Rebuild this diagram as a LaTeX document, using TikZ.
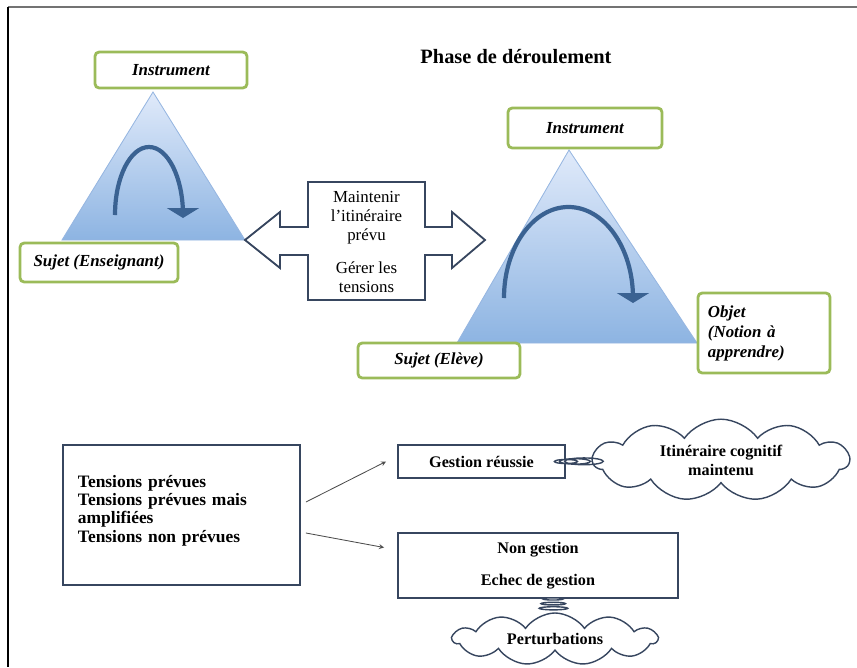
\documentclass[tikz,border=0pt]{standalone}
\usepackage{fontspec}
\setmainfont{Liberation Serif}
\usepackage{tikz}
\usetikzlibrary{shapes,arrows,arrows.meta}
\usetikzlibrary{positioning}
\definecolor{poleGreen}{RGB}{155,187,89}
\definecolor{boxNavy}{RGB}{55,70,95}
\definecolor{triTop}{RGB}{224,234,250}
\definecolor{triBot}{RGB}{141,180,226}
\definecolor{triEdge}{RGB}{150,182,225}
\definecolor{arcBlue}{RGB}{58,98,146}
\newcommand{\mBold}[1]{\fontsize{#1}{1.18\dimexpr #1pt\relax}\selectfont\bfseries}
\newcommand{\turn}[4]{\draw[turnarrow] #1 arc[start angle=180,end angle=360,x radius=#2,y radius=#3] -- ++(0,#4)}
\newcommand{\pole}[5]{\node[pole,minimum width=#3,minimum height=#4] (#1) at #2 {#5}}
\tikzset{
    pole/.style={draw=poleGreen,line width=2pt,rounded corners=3pt,fill=white,
        inner sep=3pt,font=\fontsize{12}{14}\selectfont\bfseries\itshape},
    tri/.style={top color=triTop,bottom color=triBot,draw=triEdge,line width=0.6pt},
    turnarrow/.style={draw=arcBlue,line width=3pt,
        -{Triangle[width=0.8cm,length=0.25cm]}},
    plainbox/.style={draw=boxNavy,line width=1.3pt,fill=white,font=\mBold{11.5}},
    cloudnote/.style={cloud callout,draw=boxNavy,line width=1pt,fill=white,
        cloud puffs=11,cloud puff arc=110,cloud ignores aspect,
        callout pointer segments=3,font=\mBold{11.5}},
    tensarrow/.style={->,>=stealth,draw=black!70,line width=0.6pt}
}
\begin{document}
\begin{tikzpicture}[x=0.025cm,y=-0.025cm]
    \useasboundingbox (0,0) rectangle (857,667);
    \draw [line width=1.5pt,black!55] (8,7) -- (857,7);
    \draw [line width=1.2pt] (8,7) -- (8,667);
    \node[font=\mBold{14.5}] (titre) at (516,57) {Phase de déroulement};
    % enseignant
    \shade[tri] (153,92) -- (245,240) -- (62,240) -- cycle;
    \turn{(115,215)}{34}{68}{3};
    \pole{instEns}{(171,70)}{3.8cm}{0.9cm}{Instrument};
    \pole{sujEns}{(99,262.5)}{3.95cm}{0.975cm}{Sujet (Enseignant)};
    % eleve
    \shade[tri] (569,150) -- (697,343) -- (457,343) -- cycle;
    \turn{(504,298)}{64.5}{91}{5};
    \pole{instEl}{(585,128)}{3.85cm}{1cm}{Instrument};
    \pole{sujEl}{(439,360.5)}{4.05cm}{0.875cm}{Sujet (Elève)};
    \node[pole,minimum width=3.3cm,minimum height=2cm,text width=2.8cm,align=left,
        font=\fontsize{12}{14.2}\selectfont\bfseries\itshape] (objet) at (764,333)
        {Objet\\(Notion à\\apprendre)};
    % double fleche
    \draw [draw=boxNavy,line width=1.3pt,fill=white,line join=miter]
        (245,240) -- (280,212) -- (280,227) -- (308,227) -- (308,182) -- (425,182)
        -- (425,227) -- (452,227) -- (452,212) -- (485,240) -- (452,268) -- (452,255)
        -- (425,255) -- (425,300) -- (308,300) -- (308,255) -- (280,255) -- (280,268) -- cycle;
    \node[align=center,font=\fontsize{12}{13.5}\selectfont] (gere) at (366.5,242)
        {Maintenir\\l’itinéraire\\prévu\\[10pt]Gérer les\\tensions};
    % tensions
    \node[plainbox,minimum width=5.925cm,minimum height=3.5cm,text width=5.175cm,
        align=left,font=\fontsize{12.4}{13}\selectfont\bfseries] (tens) at (181.5,515)
        {Tensions prévues\\Tensions prévues mais\\amplifiées\\Tensions non prévues\\[-4pt]\mbox{}};
    \node[plainbox,minimum width=4.175cm,minimum height=0.825cm] (gest) at (481.5,461.5)
        {Gestion réussie};
    \node[plainbox,minimum width=7cm,minimum height=1.625cm,align=center] (nong) at (538,565.5)
        {Non gestion\\[9pt]Echec de gestion};
    \draw[tensarrow] ([shift={(5,-13)}]tens.east) -- ([shift={(-11,0)}]gest.west);
    \draw[tensarrow] ([shift={(5,18)}]tens.east) -- ([shift={(-13,-18)}]nong.west);
    \node[cloudnote,minimum width=6.4cm,minimum height=1.9cm,align=center,
        callout pointer start size=.18 of callout,
        callout pointer end size=.09 of callout,
        callout absolute pointer={(gest.east)}] (cogn) at (721,460)
        {Itinéraire cognitif\\maintenu};
    \node[cloudnote,minimum width=5.1cm,minimum height=1.3cm,
        callout pointer start size=.16 of callout,
        callout pointer end size=.1 of callout,
        callout absolute pointer={([xshift=0.375cm]nong.south)}] (pert) at (555,639)
        {Perturbations};
\end{tikzpicture}
\end{document}
